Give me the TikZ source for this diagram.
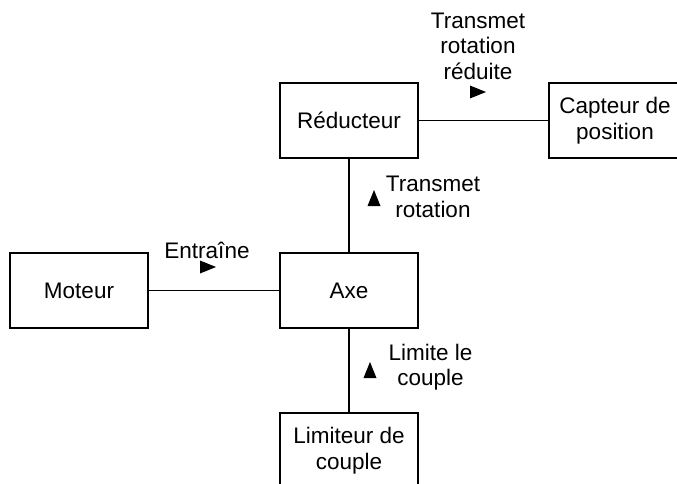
\documentclass[tikz,border=0pt]{standalone}
\usepackage{fontspec}
\setmainfont{Liberation Sans}

\tikzset{
  bloc/.style={draw, line width=1.3pt, minimum width=138pt, minimum height=75pt,
    align=center, inner sep=0pt},
  lien/.style={line width=1.3pt},
  etiq/.style={align=center, inner sep=0pt},
  sens/.pic={\fill (-8,-6.5) -- (8,0) -- (-8,6.5) -- cycle;}
}

\begin{document}
\begin{tikzpicture}[x=1pt, y=-1pt, font=\fontsize{22.5}{25.5}\selectfont]
  \clip (0,0) rectangle (677,484);
  % blocs
  \node[bloc] (reducteur) at (349,120.5) {Réducteur};
  \node[bloc, minimum width=132pt] (capteur) at (615,120.5) {Capteur de\\position};
  \node[bloc] (moteur) at (79,290.5) {Moteur};
  \node[bloc] (axe) at (349,290.5) {Axe};
  \node[bloc] (limiteur) at (349,450.5) {Limiteur de\\couple};
  % liaisons
  \draw[lien] (reducteur) -- (capteur);
  \draw[lien] (moteur) -- (axe);
  \draw[lien] (reducteur) -- (axe);
  \draw[lien] (axe) -- (limiteur);
  % sens des actions
  \pic (s1) at (478,92) {sens};
  \node[etiq] (t1) at (478,46) {Transmet\\rotation\\réduite};
  \pic (s2) at (208,267) {sens};
  \node[etiq] (t2) at (207,250) {Entraîne};
  \pic[rotate=90] (s3) at (374,198) {sens};
  \node[etiq] (t3) at (433,197) {Transmet\\rotation};
  \pic[rotate=90] (s4) at (370,370) {sens};
  \node[etiq] (t4) at (430.5,367) {Limite le\\couple};
\end{tikzpicture}
\end{document}
